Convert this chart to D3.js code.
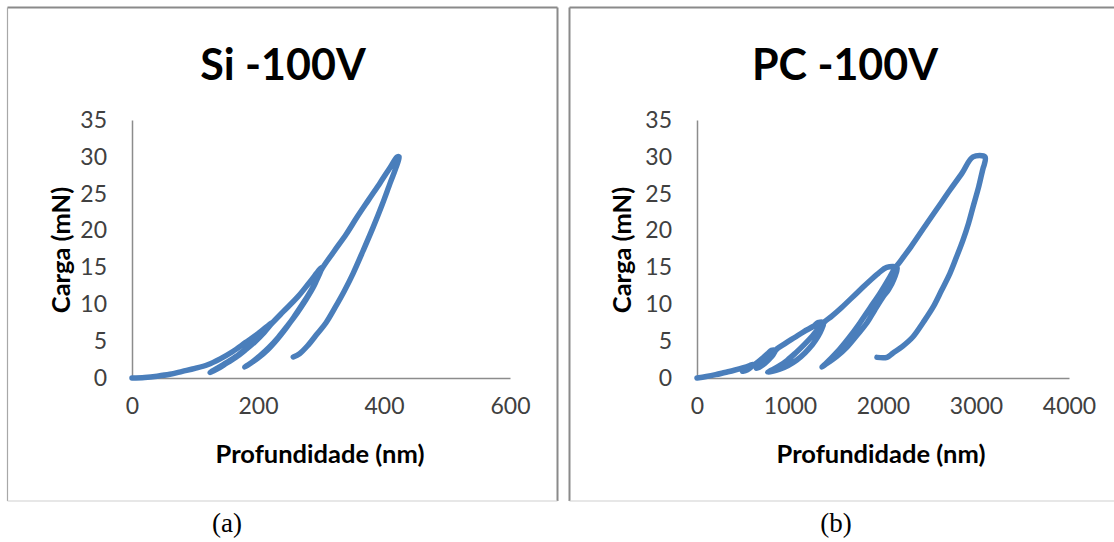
<!DOCTYPE html>
<html><head><meta charset="utf-8">
<script src="https://cdn.jsdelivr.net/npm/d3@7/dist/d3.min.js"></script>
<style>
html,body{margin:0;padding:0;background:#fff;}
svg{display:block;}
</style></head>
<body>
<svg id="c" width="1114" height="542"></svg>
<script>
// ---- data ----
const yTicks = [0, 5, 10, 15, 20, 25, 30, 35];
const siXTicks = [0, 200, 400, 600];
const pcXTicks = [0, 1000, 2000, 3000, 4000];
const titles = ["Si -100V", "PC -100V"];
const panelLabels = ["(a)", "(b)"];
const xTitle = "Profundidade (nm)";
const yTitle = "Carga (mN)";

// Si: depth (nm) and load (mN), in acquisition order (loading/unloading cycles)
const siDepth = [0,20,40,60,80,100,120,140,160,180,200,222,
  210,195,180,165,150,137,124,
  137,150,165,180,195,210,222,240,263,282,301,
  295,285,272,258,244,230,215,200,188,179,
  190,203,217,232,247,262,276,289,300,320,340,357,375,394,410,421,
  424,418,410,397,383,367,351,337,322,308,294,280,266,256];
const siLoad = [0,0.08,0.25,0.5,0.9,1.3,1.8,2.6,3.6,4.8,6.0,7.5,
  6.3,5.0,3.9,2.9,2.1,1.4,0.75,
  1.3,2.0,2.8,3.8,4.9,6.2,7.4,9.0,11.0,13.0,15.0,
  13.6,12.0,10.2,8.4,6.7,5.2,3.8,2.7,2.0,1.5,
  2.1,3.0,4.1,5.5,7.1,8.8,10.6,12.5,14.6,17.1,19.5,21.8,24.1,26.5,28.6,30.0,
  30.0,28.3,26.5,23.5,20.5,17.3,14.2,11.8,9.5,7.5,6.0,4.5,3.3,2.85];

// PC: depth (nm) and load (mN)
const pcDepth = [0,100,200,300,400,500,560,600,
  590,560,520,490,
  530,570,610,660,710,760,800,840,
  820,780,730,680,640,
  680,730,780,820,860,950,1050,1150,1250,1300,1360,
  1340,1300,1240,1160,1070,980,890,810,760,
  800,880,970,1060,1150,1240,1320,1370,
  1450,1550,1650,1750,1850,1950,2040,2150,
  2120,2060,2000,1910,1828,1720,1613,1500,1400,1344,
  1380,1505,1630,1753,1860,1968,2060,2108,2160,
  2300,2473,2600,2720,2850,2968,3097,
  3090,3075,3030,2968,2920,2860,2790,2720,2630,2538,2430,2323,2210,2108,2043,1935];
const pcLoad = [0,0.2,0.45,0.75,1.05,1.4,1.65,1.85,
  1.6,1.25,1.0,0.9,
  1.1,1.4,1.75,2.2,2.75,3.3,3.75,3.75,
  3.2,2.6,2.0,1.55,1.3,
  1.6,2.1,2.7,3.3,3.95,4.7,5.5,6.3,7.0,7.5,7.5,
  6.6,5.6,4.5,3.4,2.4,1.7,1.2,0.9,0.8,
  1.05,1.6,2.4,3.4,4.5,5.7,6.9,7.6,
  8.4,9.5,10.7,11.9,13.1,14.2,15.0,15.0,
  13.5,12.0,11.0,9.2,7.5,5.8,4.2,2.9,2.0,1.5,
  1.9,3.5,5.4,7.5,9.5,11.5,13.4,14.5,15.4,
  17.8,21.0,23.3,25.5,27.8,30.0,30.0,
  29.0,28.4,26.0,23.2,21.0,18.7,16.4,14.2,11.9,9.6,7.5,5.6,4.3,3.4,2.8,2.8];

// ---- drawing ----
const svg = d3.select("#c");
const FONT = "Lato, 'Open Sans', sans-serif";
const BLUE = "#4a7ebb";

function border(x0, x1, y0, y1, hasRight) {
  const g = svg.append("g");
  g.append("line").attr("x1", x0).attr("x2", hasRight ? x1 : 1114).attr("y1", y0).attr("y2", y0)
    .attr("stroke", "#8a8a8a").attr("stroke-width", 2);
  g.append("line").attr("x1", x0).attr("x2", x0).attr("y1", y0).attr("y2", y1)
    .attr("stroke", hasRight ? "#a8a8a8" : "#8a8a8a").attr("stroke-width", hasRight ? 1.2 : 2);
  if (hasRight) g.append("line").attr("x1", x1).attr("x2", x1).attr("y1", y0).attr("y2", y1)
    .attr("stroke", "#8a8a8a").attr("stroke-width", 2);
  g.append("line").attr("x1", x0).attr("x2", hasRight ? x1 : 1114).attr("y1", y1).attr("y2", y1)
    .attr("stroke", "#cfcfcf").attr("stroke-width", 1.2);
}
border(7.5, 557.5, 7.5, 501, true);
border(569.5, 1114, 7.5, 501, false);

function panel(cfg) {
  const x = d3.scaleLinear().domain(cfg.xDomain).range(cfg.xRange);
  const y = d3.scaleLinear().domain([0, 35]).range([378, 120]);
  const g = svg.append("g");

  g.append("text").attr("x", cfg.titleX).attr("y", 80).attr("text-anchor", "middle")
    .attr("font-family", FONT).attr("font-weight", "bold").attr("font-size", 43)
    .attr("fill", "#000").text(cfg.title);

  // axes
  const ya = g.append("g").attr("transform", `translate(${x(0)},0)`)
    .call(d3.axisLeft(y).tickValues(yTicks).tickSize(0).tickPadding(25));
  ya.select(".domain").attr("stroke", "#8c8c8c").attr("stroke-width", 1.5);
  ya.selectAll("text").attr("font-family", FONT).attr("font-size", 23).attr("fill", "#404040");

  const xa = g.append("g").attr("transform", `translate(0,${y(0)})`)
    .call(d3.axisBottom(x).tickValues(cfg.xTicks).tickSize(0).tickPadding(20).tickFormat(d3.format("d")));
  xa.select(".domain").attr("stroke", "#8c8c8c").attr("stroke-width", 1.5);
  xa.selectAll("text").attr("font-family", FONT).attr("font-size", 23).attr("fill", "#404040");

  g.append("text").attr("x", cfg.xTitleX).attr("y", 463).attr("text-anchor", "middle")
    .attr("font-family", FONT).attr("font-weight", "bold").attr("font-size", 25.5)
    .attr("fill", "#000").text(xTitle);
  g.append("text").attr("transform", `translate(${cfg.yTitleX},250) rotate(-90)`)
    .attr("text-anchor", "middle").attr("font-family", FONT).attr("font-weight", "bold")
    .attr("font-size", 25.5).attr("fill", "#000").text(yTitle);

  const pts = cfg.depth.map((d, i) => [d, cfg.load[i]]);
  g.append("path").datum(pts)
    .attr("fill", "none").attr("stroke", BLUE).attr("stroke-width", 5.5)
    .attr("stroke-linejoin", "round").attr("stroke-linecap", "round")
    .attr("d", d3.line().x(d => x(d[0])).y(d => y(d[1])).curve(d3.curveCatmullRom.alpha(0.5)));

  svg.append("text").attr("x", cfg.labelX).attr("y", 532).attr("text-anchor", "middle")
    .attr("font-family", "'Liberation Serif', 'Times New Roman', serif").attr("font-size", 27)
    .attr("fill", "#000").text(cfg.label);
}

panel({title: titles[0], titleX: 283, xDomain: [0, 600], xRange: [132, 510], xTicks: siXTicks,
  xTitleX: 320, yTitleX: 70, depth: siDepth, load: siLoad, labelX: 227, label: panelLabels[0]});
panel({title: titles[1], titleX: 845, xDomain: [0, 4000], xRange: [697, 1069], xTicks: pcXTicks,
  xTitleX: 881, yTitleX: 631, depth: pcDepth, load: pcLoad, labelX: 836, label: panelLabels[1]});
</script>
</body></html>
